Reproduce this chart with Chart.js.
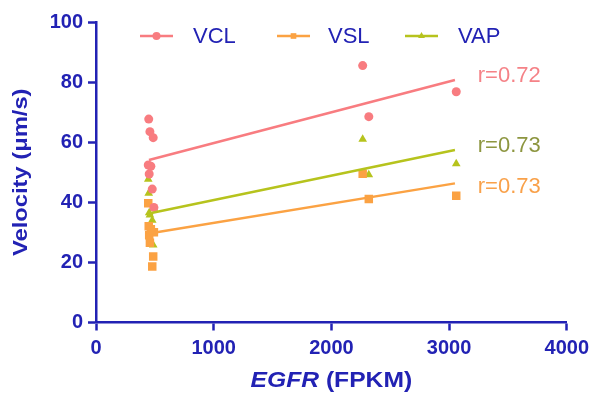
<!DOCTYPE html>
<html>
<head>
<meta charset="utf-8">
<script src="https://cdn.jsdelivr.net/npm/chart.js@4.4.1/dist/chart.umd.min.js"></script>
<style>
	html, body { margin: 0; padding: 0; background: #fff; }
	#wrap { width: 595px; height: 394px; }
</style>
</head>
<body>
<div id="wrap"><canvas id="myChart" width="595" height="394"></canvas></div>
<script>
// 데이터
var egfr = [448, 458, 486, 444, 452, 478, 492, 466, 2266, 2318, 3061];
var vcl = [67.7, 63.5, 61.5, 52.4, 49.4, 44.4, 38.3, 52.0, 85.5, 68.5, 76.8];
var vsl = [32.0, 26.5, 22.0, 39.7, 29.0, 18.6, 30.0, 31.0, 49.5, 41.1, 42.2];
var vap = [43.0, 35.8, 25.8, 47.7, 36.5, 34.0, 38.0, 44.0, 61.0, 49.2, 52.8];

// 회귀선 양 끝점
var fitX = [450, 3050];
var vclFit = [54.1, 80.7];
var vslFit = [29.6, 46.3];
var vapFit = [36.3, 57.4];

// r 값 라벨
var rLabels = ['r=0.72', 'r=0.73', 'r=0.73'];
var rLabelX = [3244, 3244, 3244];
var rLabelY = [81.9, 58.8, 45.2];

var xTicks = [0, 1000, 2000, 3000, 4000];
var yTicks = [0, 20, 40, 60, 80, 100];

var seriesNames = ['VCL', 'VSL', 'VAP'];
var seriesColors = ['#f87c80', '#fba243', '#b6c31d'];
var rLabelColors = ['#f58287', '#8d9640', '#f9a14a'];
var axisColor = '#2222b4';
var fontFamily = '"Liberation Sans", Arial, sans-serif';

function toPoints(xs, ys) {
	var pts = [];
	for (var i = 0; i < xs.length; i++) {
		pts.push({ x : xs[i], y : ys[i] });
	}
	return pts;
}

var ctx = document.getElementById('myChart');

// 범례, 축 제목, r 라벨 그리기
var decorations = {
	id : 'decorations',
	afterDraw : function(chart) {
		var c = chart.ctx;
		var xs = chart.scales.x;
		var ys = chart.scales.y;
		c.save();

		// r 라벨
		c.font = '22px ' + fontFamily;
		c.textAlign = 'left';
		c.textBaseline = 'middle';
		for (var i = 0; i < rLabels.length; i++) {
			c.fillStyle = rLabelColors[i];
			c.fillText(rLabels[i], xs.getPixelForValue(rLabelX[i]), ys.getPixelForValue(rLabelY[i]));
		}

		// 범례
		var legendLineX = [140, 277, 405];
		var legendTextX = [193, 328, 458];
		var legendY = 36;
		var styles = ['circle', 'rect', 'triangle'];
		for (var j = 0; j < 3; j++) {
			c.strokeStyle = seriesColors[j];
			c.lineWidth = 2.5;
			c.beginPath();
			c.moveTo(legendLineX[j], legendY);
			c.lineTo(legendLineX[j] + 33, legendY);
			c.stroke();
			c.fillStyle = seriesColors[j];
			Chart.helpers.drawPoint(c, { pointStyle : styles[j], radius : 4, borderWidth : 0 },
				legendLineX[j] + 16.5, legendY);
			c.fillStyle = axisColor;
			c.font = '22px ' + fontFamily;
			c.textAlign = 'left';
			c.textBaseline = 'middle';
			c.fillText(seriesNames[j], legendTextX[j], legendY + 1);
		}

		// x 축 제목 (원본처럼 가로로 약간 늘림)
		c.fillStyle = axisColor;
		c.textBaseline = 'middle';
		var italicPart = 'EGFR';
		var plainPart = ' (FPKM)';
		c.font = 'italic bold 22px ' + fontFamily;
		var w1 = c.measureText(italicPart).width;
		c.font = 'bold 22px ' + fontFamily;
		var w2 = c.measureText(plainPart).width;
		var stretch = 1.12;
		var cx = (chart.chartArea.left + chart.chartArea.right) / 2;
		c.save();
		c.translate(cx, 381);
		c.scale(stretch, 1);
		var startX = -(w1 + w2) / 2;
		c.textAlign = 'left';
		c.font = 'italic bold 22px ' + fontFamily;
		c.fillText(italicPart, startX, 0);
		c.font = 'bold 22px ' + fontFamily;
		c.fillText(plainPart, startX + w1, 0);
		c.restore();

		// y 축 제목
		c.translate(21, (chart.chartArea.top + chart.chartArea.bottom) / 2);
		c.rotate(-Math.PI / 2);
		c.scale(1.13, 1);
		c.textAlign = 'center';
		c.font = 'bold 21px ' + fontFamily;
		c.fillText('Velocity (\u03bcm/s)', 0, 0);
		c.restore();
	}
};

var scatterStyles = ['circle', 'rect', 'triangle'];
var scatterRadius = [4.5, 6, 5];
var seriesData = [vcl, vsl, vap];
var fitData = [vclFit, vslFit, vapFit];
var datasets = [];
for (var k = 0; k < 3; k++) {
	datasets.push({
		type : 'scatter',
		label : seriesNames[k],
		data : toPoints(egfr, seriesData[k]),
		pointStyle : scatterStyles[k],
		pointRadius : scatterRadius[k],
		pointBackgroundColor : seriesColors[k],
		pointBorderWidth : 0,
		showLine : false,
		order : 2
	});
}
for (var m = 0; m < 3; m++) {
	datasets.push({
		type : 'scatter',
		label : seriesNames[m] + ' fit',
		data : toPoints(fitX, fitData[m]),
		showLine : true,
		borderColor : seriesColors[m],
		borderWidth : 2.5,
		pointRadius : 0,
		order : 1
	});
}

var tickFont = { family : fontFamily, size : 20, weight : 'bold' };

var myChart = new Chart(ctx, {
	type : 'scatter',
	data : { datasets : datasets },
	options : {
		responsive : false,
		animation : false,
		layout : { padding : { top : 22, right : 28, left : 0, bottom : 0 } },
		plugins : {
			legend : { display : false },
			tooltip : { enabled : false }
		},
		scales : {
			x : {
				type : 'linear',
				min : 0,
				max : 4000,
				afterBuildTicks : function(axis) {
					axis.ticks = xTicks.map(function(v) { return { value : v }; });
				},
				afterFit : function(axis) { axis.height = 71.5; },
				grid : {
					drawOnChartArea : false,
					drawTicks : true,
					tickLength : 8,
					tickWidth : 2.5,
					tickColor : axisColor
				},
				border : { color : axisColor, width : 2.5 },
				ticks : {
					color : axisColor,
					font : tickFont,
					padding : 6,
					maxRotation : 0,
					callback : function(value) { return String(value); }
				}
			},
			y : {
				type : 'linear',
				min : 0,
				max : 100,
				afterBuildTicks : function(axis) {
					axis.ticks = yTicks.map(function(v) { return { value : v }; });
				},
				afterFit : function(axis) { axis.width = 96; },
				grid : {
					drawOnChartArea : false,
					drawTicks : true,
					tickLength : 8,
					tickWidth : 2.5,
					tickColor : axisColor
				},
				border : { color : axisColor, width : 2.5 },
				ticks : {
					color : axisColor,
					font : tickFont,
					padding : 5,
					callback : function(value) { return String(value); }
				}
			}
		}
	},
	plugins : [ decorations ]
});
</script>
</body>
</html>
